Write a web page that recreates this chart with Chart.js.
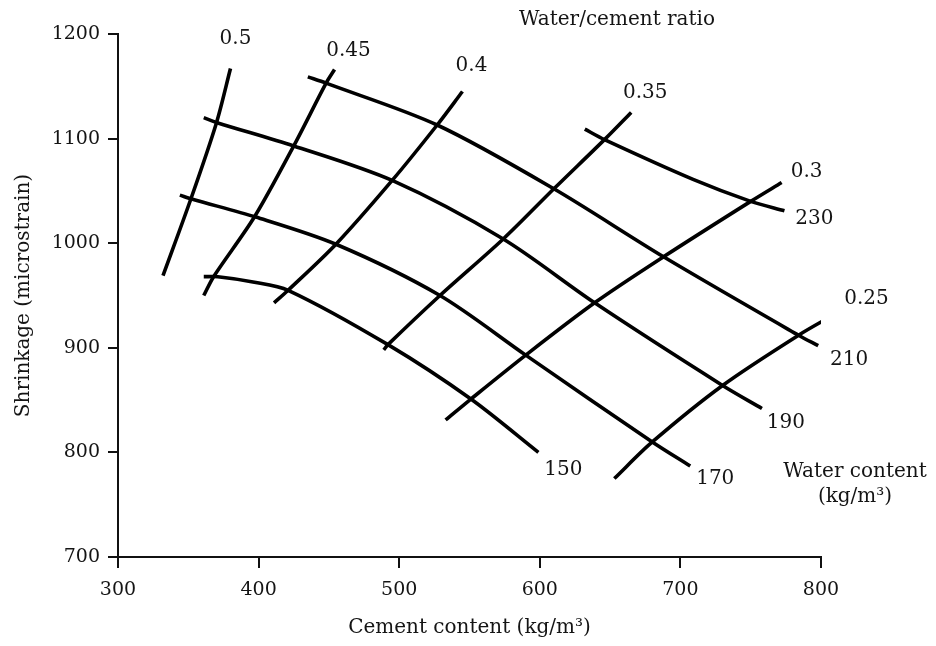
<!DOCTYPE html>
<html>
<head>
<meta charset="utf-8">
<script src="https://cdn.jsdelivr.net/npm/chart.js@4.4.1/dist/chart.umd.min.js"></script>
<style>
  html, body { margin: 0; padding: 0; background: #fff; }
</style>
</head>
<body>
<canvas id="shrinkageChart" width="936" height="646"></canvas>
<script>
// Linien konstanter Wassergehalte (Zementgehalt, Schwinden)
const waterLabels = ['150', '170', '190', '210', '230'];
const water150 = [[361, 968], [371, 968], [396, 963], [421, 955], [492, 903], [551, 851], [599, 800]];
const water170 = [[344, 1046], [353, 1042], [398, 1025], [455, 999], [529, 950], [590, 893], [680, 810], [707, 787]];
const water190 = [[361, 1120], [371, 1115], [425, 1093], [495, 1060], [574, 1004], [639, 943], [730, 864], [758, 842]];
const water210 = [[435, 1159], [448, 1153], [527, 1113], [610, 1052], [688, 987], [784, 912], [798, 902]];
const water230 = [[632, 1109], [646, 1099], [709, 1061], [750, 1040], [774, 1031]];

// Linien konstanter w/z-Werte
const ratioLabels = ['0.5', '0.45', '0.4', '0.35', '0.3', '0.25'];
const ratio050 = [[332, 969], [352, 1043], [370, 1115], [380, 1167]];
const ratio045 = [[361, 950], [368, 968], [397, 1025], [425, 1093], [448, 1153], [454, 1166]];
const ratio040 = [[411, 943], [421, 955], [455, 999], [495, 1060], [527, 1113], [545, 1145]];
const ratio035 = [[489, 898], [492, 903], [529, 950], [574, 1004], [610, 1052], [646, 1099], [665, 1125]];
const ratio030 = [[533, 831], [551, 851], [590, 893], [639, 943], [688, 987], [750, 1040], [772, 1058]];
const ratio025 = [[653, 775], [680, 810], [730, 864], [784, 912], [811, 933]];

const waterLines = [water150, water170, water190, water210, water230];
const ratioLines = [ratio050, ratio045, ratio040, ratio035, ratio030, ratio025];

// Versatz der Beschriftung vom Linienende (px)
const waterLabelOffsets = [[25, 17], [25, 13], [24, 14], [31, 14], [30, 8]];
const ratioLabelOffsets = [[5, -30], [14, -19], [9, -26], [14, -20], [25, -11], [30, -14]];

const fontFamily = '"DejaVu Serif", "Liberation Serif", serif';
const inkColor = '#141414';

function makeDataset(label, points, offset) {
    return {
        label: label,
        data: points.map(p => ({ x: p[0], y: p[1] })),
        showLine: true,
        borderColor: '#000',
        borderWidth: 3.6,
        pointRadius: 0,
        fill: false,
        tension: 0.3,
        labelOffset: offset
    };
}

const datasets = [];
waterLines.forEach((line, i) => datasets.push(makeDataset(waterLabels[i], line, waterLabelOffsets[i])));
ratioLines.forEach((line, i) => datasets.push(makeDataset(ratioLabels[i], line, ratioLabelOffsets[i])));

// Beschriftet jede Linie an ihrem rechten Ende
const lineLabels = {
    id: 'lineLabels',
    afterDatasetsDraw(chart) {
        const { ctx, chartArea, scales: { x, y } } = chart;
        ctx.save();
        ctx.font = '20px ' + fontFamily;
        ctx.fillStyle = inkColor;
        ctx.textAlign = 'center';
        ctx.textBaseline = 'middle';
        chart.data.datasets.forEach(ds => {
            const last = ds.data[ds.data.length - 1];
            const off = ds.labelOffset;
            ctx.fillText(ds.label, x.getPixelForValue(last.x) + off[0], y.getPixelForValue(last.y) + off[1]);
        });
        // Gruppenüberschriften
        ctx.fillText('Water/cement ratio', chartArea.left + 499, chartArea.top - 14);
        ctx.fillText('Water content', chartArea.right + 34, chartArea.bottom - 85);
        ctx.fillText('(kg/m\u00B3)', chartArea.right + 34, chartArea.bottom - 60);
        ctx.restore();
    }
};

const ctx = document.getElementById('shrinkageChart').getContext('2d');
new Chart(ctx, {
    type: 'scatter',
    data: { datasets: datasets },
    plugins: [lineLabels],
    options: {
        responsive: false,
        animation: false,
        layout: { padding: { top: 34, right: 115, left: 0, bottom: 0 } },
        plugins: {
            legend: { display: false },
            tooltip: { enabled: false }
        },
        scales: {
            x: {
                type: 'linear',
                min: 300,
                max: 800,
                ticks: { stepSize: 100, color: inkColor, padding: 11, font: { family: fontFamily, size: 19 } },
                grid: { display: true, drawOnChartArea: false, drawTicks: true, tickLength: 11, color: '#111', lineWidth: 2 },
                border: { display: true, color: '#111', width: 2 },
                title: {
                    display: true,
                    text: 'Cement content (kg/m\u00B3)',
                    color: inkColor,
                    font: { family: fontFamily, size: 20 },
                    padding: { top: 0, bottom: 6 }
                },
                afterFit: scale => { scale.height = 89; }
            },
            y: {
                type: 'linear',
                min: 700,
                max: 1200,
                ticks: {
                    stepSize: 100, color: inkColor, padding: 8, font: { family: fontFamily, size: 19 },
                    callback: value => String(value)
                },
                grid: { display: true, drawOnChartArea: false, drawTicks: true, tickLength: 10, color: '#111', lineWidth: 2 },
                border: { display: true, color: '#111', width: 2 },
                title: {
                    display: true,
                    text: 'Shrinkage (microstrain)',
                    color: inkColor,
                    font: { family: fontFamily, size: 20 },
                    padding: { top: 12, bottom: 0 }
                },
                afterFit: scale => { scale.width = 118; }
            }
        }
    }
});
</script>
</body>
</html>
